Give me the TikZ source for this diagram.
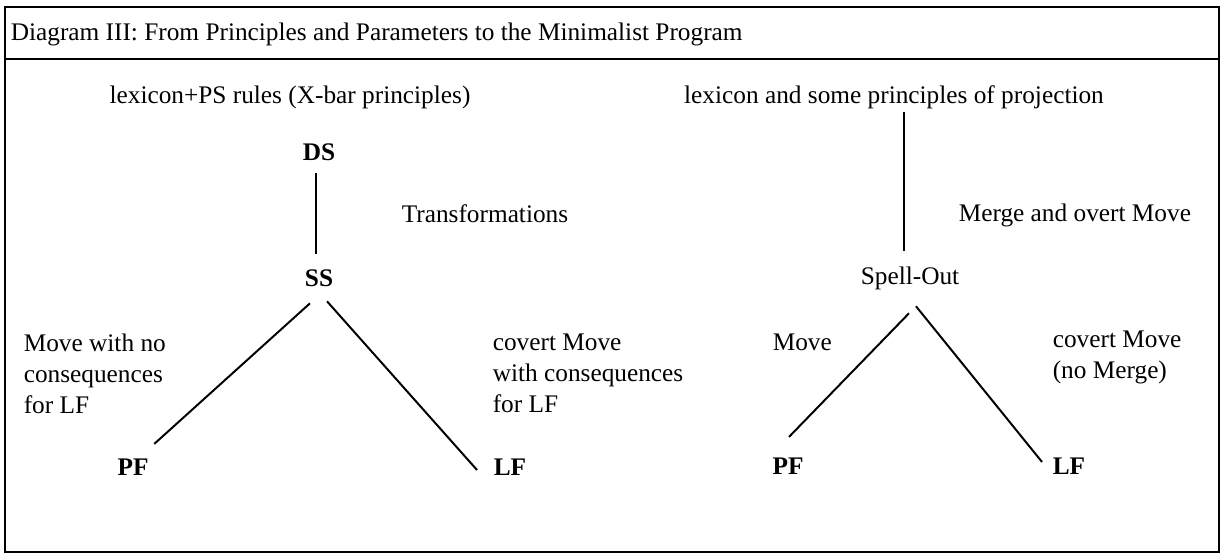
\documentclass[tikz,border=0pt]{standalone}
\usepackage{fontspec}
\setmainfont{Liberation Serif}
\usetikzlibrary{calc}
\begin{document}
\begin{tikzpicture}[x=0.025cm,y=-0.025cm,line width=1.4pt,
	every node/.style={font=\fontsize{18}{22}\selectfont,inner sep=2pt},
	lvl/.style={font=\fontsize{18}{22}\selectfont\bfseries},
	note/.style={anchor=west,align=left}]
	\useasboundingbox (0,0) rectangle (1222,556);
	\draw[line width=1.7pt] (5,7) rectangle (1219,552);
	\draw[line width=1.7pt] (5,59) -- (1219,59);
	\node[note](title) at (7,34) {Diagram III: From Principles and Parameters to the Minimalist Program};
	% Principles and Parameters
	\node(lexL) at (290,97) {lexicon+PS rules (X-bar principles)};
	\node[lvl](ds) at (319,152) {DS};
	\node[lvl](ss) at (319,278) {SS};
	\node[note](trans) at (398,214) {Transformations};
	\node[note](mvL) at (20,374) {Move with no\\consequences\\for LF};
	\node[note](cvL) at (489,373) {covert Move\\with consequences\\for LF};
	\node[lvl](pf1) at (133,467) {PF};
	\node[lvl](lf1) at (510,467) {LF};
	\draw ($(ds.south)+(-3,9)$) to ($(ss.north)+(-3,-12)$);
	\draw ($(ss.south)+(-9,13)$) to ($(pf1.north east)+(2,-11)$);
	\draw ($(ss.south)+(8,11)$) to ($(lf1.west)+(-13,3)$);
	% Minimalist Program
	\node(lexR) at (894,97) {lexicon and some principles of projection};
	\node(so) at (910,278) {Spell-Out};
	\node[note](merge) at (955,215) {Merge and overt Move};
	\node[note](mvR) at (769,342) {Move};
	\node[note](cvR) at (1049,357) {covert Move\\(no Merge)};
	\node[lvl](pf2) at (788,466) {PF};
	\node[lvl](lf2) at (1069,466) {LF};
	\draw ($(lexR.south -| so.north)+(-6,0)$) to ($(so.north)+(-6,-12)$);
	\draw ($(so.south)+(-1,20)$) to ($(pf2.north)+(1,-17)$);
	\draw ($(so.south)+(6,13)$) to ($(lf2.west)+(-7,-4)$);
\end{tikzpicture}
\end{document}
